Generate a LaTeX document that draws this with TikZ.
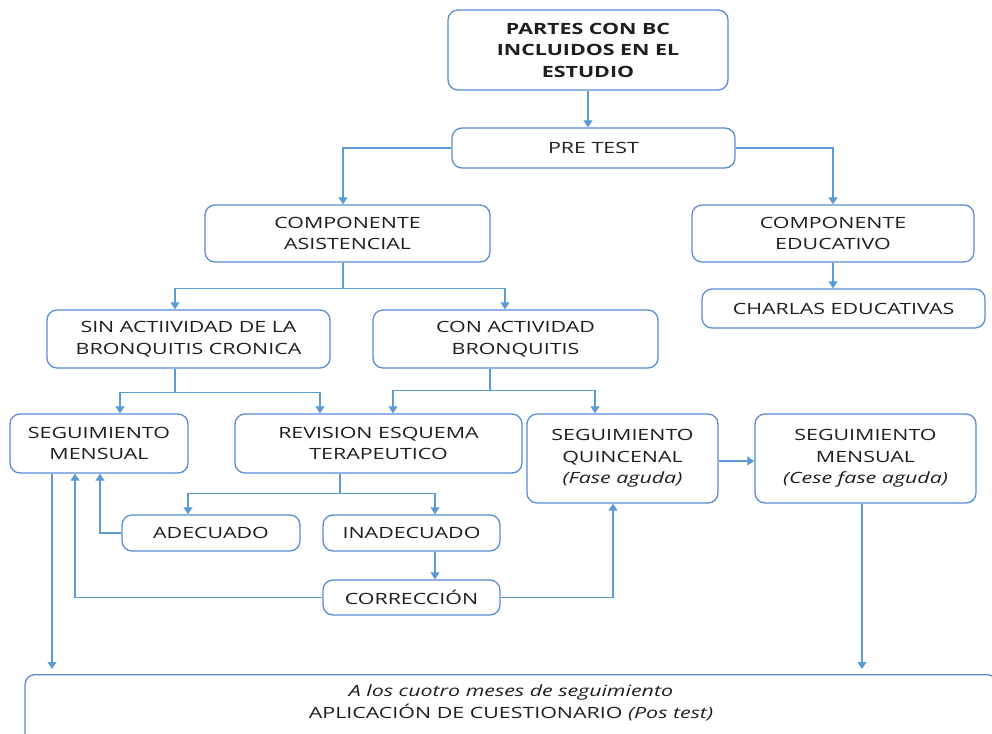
\documentclass[tikz,border=0pt]{standalone}
\usepackage{fontspec}
\setmainfont[FakeStretch=1.38]{Open Sans}
\usetikzlibrary{arrows.meta}
\definecolor{boxcol}{RGB}{88,140,214}
\definecolor{arrcol}{RGB}{91,155,213}
\definecolor{txtcol}{RGB}{30,30,30}
\tikzset{
  box/.style={draw=boxcol, line width=1.3pt, rounded corners=10pt, fill=white,
    align=center, text=txtcol, inner sep=0pt,
    font=\fontsize{15.5}{21.5}\selectfont},
  arr/.style={draw=arrcol, line width=1.2pt, -{Triangle[width=9pt,length=7pt]}},
  ln/.style={draw=arrcol, line width=1.2pt},
}
\begin{document}
\begin{tikzpicture}[x=1pt,y=-1pt]
\useasboundingbox (0,0) rectangle (992,733);
\node[box, minimum width=280pt, minimum height=80pt, font=\fontsize{15.5}{21.5}\selectfont\bfseries] (partes) at (588,50) {PARTES CON BC\\INCLUIDOS EN EL\\ESTUDIO};
\node[box, minimum width=283pt, minimum height=40pt] (pretest) at (593.5,148) {PRE TEST};
\node[box, minimum width=285pt, minimum height=57pt] (asist) at (347.5,233.5) {COMPONENTE\\ASISTENCIAL};
\node[box, minimum width=282pt, minimum height=57pt] (educ) at (833,233.5) {COMPONENTE\\EDUCATIVO};
\node[box, minimum width=283pt, minimum height=39pt] (charlas) at (843.5,308.5) {CHARLAS EDUCATIVAS};
\node[box, minimum width=283pt, minimum height=58pt] (sin) at (188.5,339) {SIN ACTIIVIDAD DE LA\\BRONQUITIS CRONICA};
\node[box, minimum width=285pt, minimum height=58pt] (con) at (515.5,339) {CON ACTIVIDAD\\BRONQUITIS};
\node[box, minimum width=178pt, minimum height=59pt] (segm) at (99,443.5) {SEGUIMIENTO\\MENSUAL};
\node[box, minimum width=287pt, minimum height=59pt] (rev) at (378.5,443.5) {REVISION ESQUEMA\\TERAPEUTICO};
\node[box, minimum width=191pt, minimum height=89pt] (quin) at (622.5,458.5) {SEGUIMIENTO\\QUINCENAL\\\textit{(Fase aguda)}};
\node[box, minimum width=221pt, minimum height=89pt] (segm2) at (865.5,458.5) {SEGUIMIENTO\\MENSUAL\\\textit{(Cese fase aguda)}};
\node[box, minimum width=178pt, minimum height=36pt] (adec) at (211,533) {ADECUADO};
\node[box, minimum width=177pt, minimum height=36pt] (inad) at (411.5,533) {INADECUADO};
\node[box, minimum width=177pt, minimum height=35pt] (corr) at (411.5,597.5) {CORRECCIÓN};
\node[box, minimum width=972pt, minimum height=72pt, anchor=north] (final) at (511,674) {};
\node[text=txtcol, align=center, inner sep=0pt, font=\fontsize{15.5}{21.5}\selectfont] (finaltxt) at (511,703) {\textit{A los cuotro meses de seguimiento}\\APLICACIÓN DE CUESTIONARIO \textit{(Pos test)}};

% connectors
\draw[arr] (partes.south) -- (partes.south |- pretest.north);
\draw[arr] (pretest.west) -| ([xshift=-4.5pt]asist.north);
\draw[arr] (pretest.east) -| (educ.north);
\draw[arr] (educ.south) -- (educ.south |- charlas.north);

\draw[ln] ([xshift=-4.5pt]asist.south) -- ++(0,26) coordinate (j1);
\draw[arr] (j1) -| ([xshift=-13.5pt]sin.north);
\draw[arr] (j1) -| ([xshift=-10.5pt]con.north);

\draw[ln] ([xshift=-13.5pt]sin.south) -- ++(0,24) coordinate (j2);
\draw[arr] (j2) -| ([xshift=21pt]segm.north);
\draw[arr] (j2) -| ([xshift=-58.5pt]rev.north);

\draw[ln] ([xshift=-25.5pt]con.south) -- ++(0,22) coordinate (j3);
\draw[arr] (j3) -| ([xshift=14.5pt]rev.north);
\draw[arr] (j3) -| ([xshift=-27.5pt]quin.north);

\draw[ln] ([xshift=-38.5pt]rev.south) -- ++(0,20) coordinate (j4);
\draw[arr] (j4) -| ([xshift=-23pt]adec.north);
\draw[arr] (j4) -| ([xshift=23.5pt]inad.north);

\draw[arr] ([xshift=23.5pt]inad.south) -- ([xshift=23.5pt]corr.north);
\draw[arr] (adec.west) -| ([xshift=1pt]segm.south);
\draw[arr] (corr.west) -| ([xshift=-24pt]segm.south);
\draw[arr] (corr.east) -| ([xshift=-9.5pt]quin.south);
\draw[arr] ([yshift=-2.5pt]quin.east) -- ([yshift=-2.5pt]segm2.west);
\draw[arr] ([xshift=-47pt]segm.south) -- ([xshift=-47pt,yshift=5pt]segm.south |- final.north);
\draw[arr] ([xshift=-3.5pt]segm2.south) -- ([xshift=-3.5pt,yshift=5pt]segm2.south |- final.north);
\end{tikzpicture}
\end{document}
